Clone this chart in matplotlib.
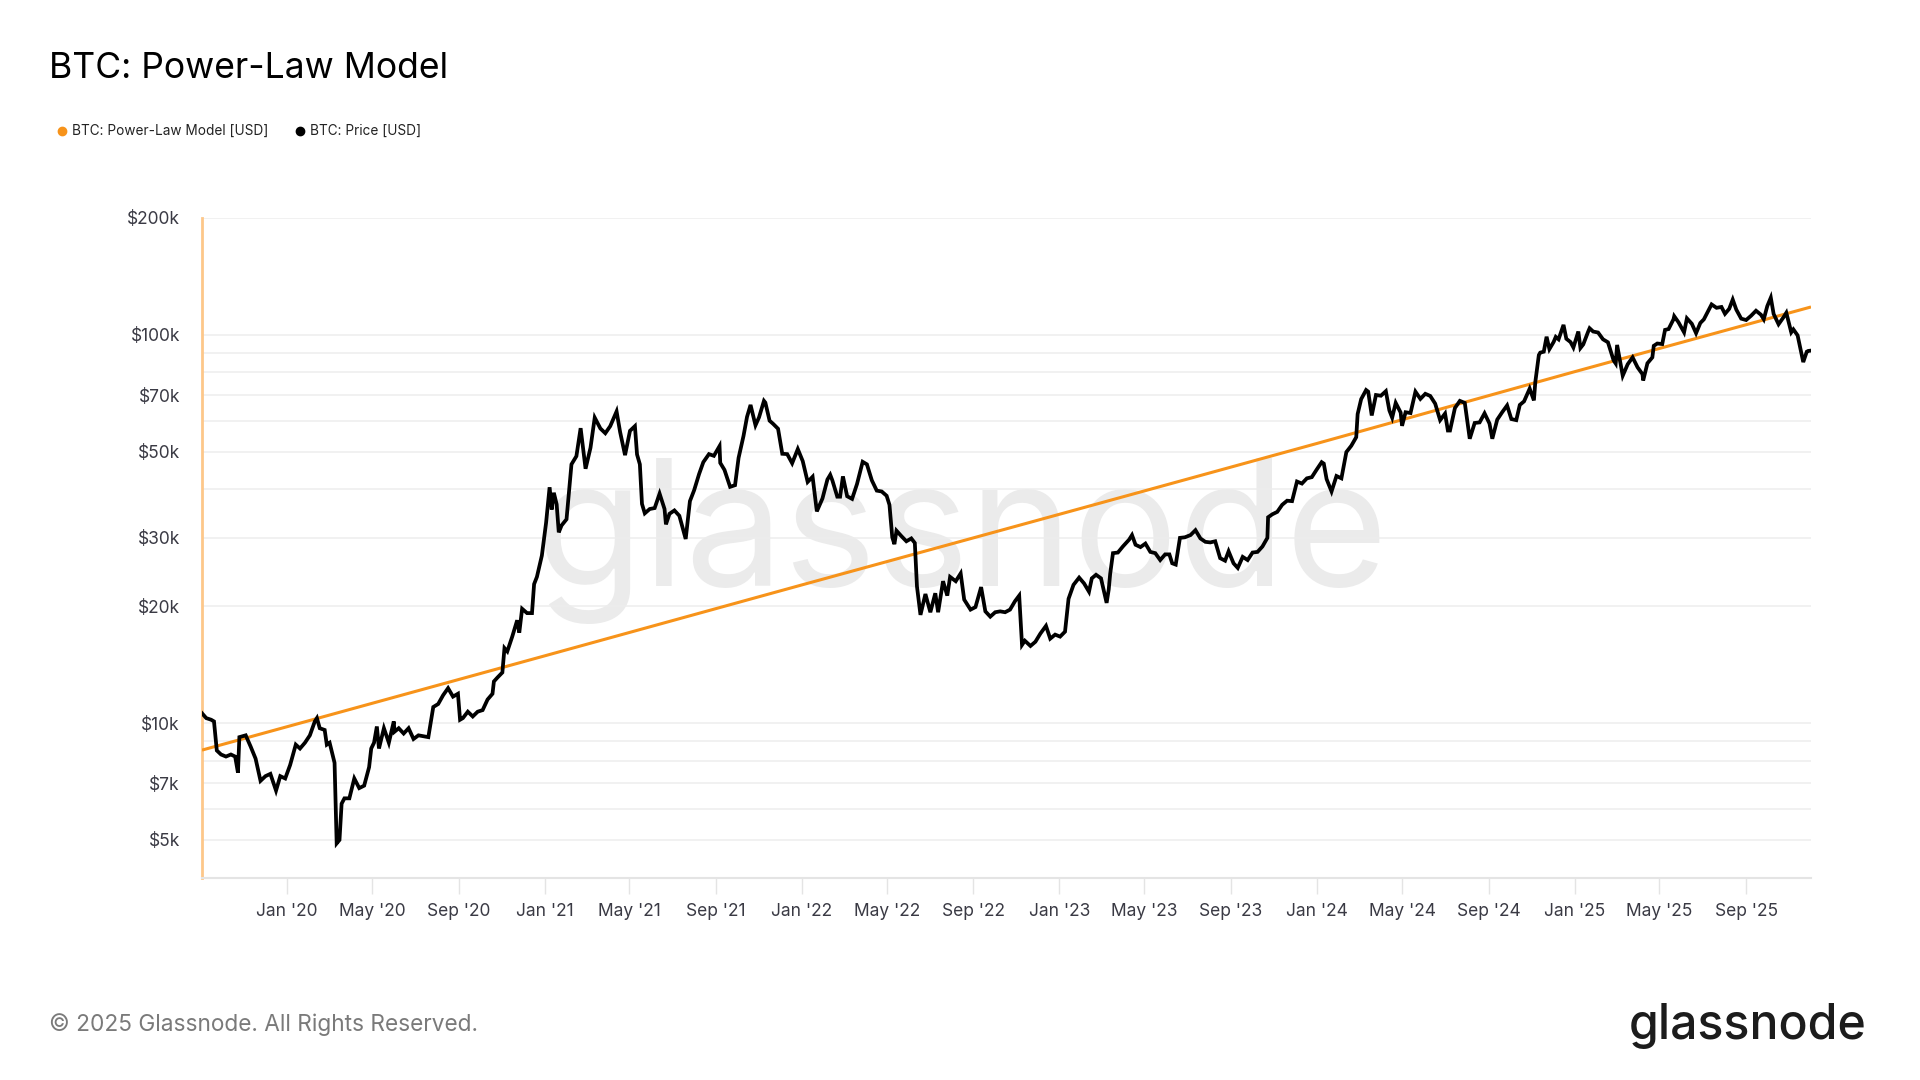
import matplotlib
matplotlib.use("Agg")
import matplotlib.pyplot as plt
from matplotlib.lines import Line2D
import pandas as pd

# ---------------------------------------------------------- #
#  Data                       #
# ---------------------------------------------------------- #
price_dates = [
    "2019-09-03", "2019-09-09", "2019-09-16", "2019-09-20", "2019-09-24", "2019-09-30",
    "2019-10-07", "2019-10-14", "2019-10-20", "2019-10-24", "2019-10-26", "2019-11-04",
    "2019-11-11", "2019-11-18", "2019-11-25", "2019-12-02", "2019-12-09", "2019-12-17",
    "2019-12-23", "2019-12-30",
    "2020-01-06", "2020-01-14", "2020-01-20", "2020-01-27", "2020-02-03", "2020-02-10",
    "2020-02-13", "2020-02-17", "2020-02-24", "2020-02-27", "2020-03-02", "2020-03-09",
    "2020-03-12", "2020-03-16", "2020-03-19", "2020-03-23", "2020-03-30", "2020-04-06",
    "2020-04-13", "2020-04-20", "2020-04-27", "2020-04-30", "2020-05-04", "2020-05-08",
    "2020-05-11", "2020-05-18", "2020-05-25", "2020-06-01", "2020-06-02", "2020-06-08",
    "2020-06-15", "2020-06-22", "2020-06-29", "2020-07-06", "2020-07-13", "2020-07-20",
    "2020-07-27", "2020-08-03", "2020-08-10", "2020-08-17", "2020-08-24", "2020-08-31",
    "2020-09-03", "2020-09-07", "2020-09-14", "2020-09-21", "2020-09-28", "2020-10-05",
    "2020-10-12", "2020-10-19", "2020-10-21", "2020-10-26", "2020-11-02", "2020-11-05",
    "2020-11-09", "2020-11-16", "2020-11-23", "2020-11-26", "2020-11-30", "2020-12-07",
    "2020-12-14", "2020-12-17", "2020-12-21", "2020-12-28",
    "2021-01-03", "2021-01-08", "2021-01-11", "2021-01-14", "2021-01-18", "2021-01-21",
    "2021-01-25", "2021-02-01", "2021-02-08", "2021-02-15", "2021-02-21", "2021-02-28",
    "2021-03-07", "2021-03-13", "2021-03-21", "2021-03-28", "2021-04-04", "2021-04-13",
    "2021-04-18", "2021-04-25", "2021-05-02", "2021-05-09", "2021-05-12", "2021-05-16",
    "2021-05-19", "2021-05-23", "2021-05-30", "2021-06-06", "2021-06-13", "2021-06-20",
    "2021-06-22", "2021-06-27", "2021-07-04", "2021-07-11", "2021-07-20", "2021-07-26",
    "2021-08-01", "2021-08-08", "2021-08-14", "2021-08-22", "2021-08-29", "2021-09-06",
    "2021-09-07", "2021-09-13", "2021-09-21", "2021-09-28", "2021-10-03", "2021-10-10",
    "2021-10-15", "2021-10-20", "2021-10-27", "2021-11-01", "2021-11-08", "2021-11-10",
    "2021-11-16", "2021-11-21", "2021-11-28", "2021-12-04", "2021-12-11", "2021-12-18",
    "2021-12-26",
    "2022-01-02", "2022-01-09", "2022-01-16", "2022-01-22", "2022-01-30", "2022-02-06",
    "2022-02-10", "2022-02-13", "2022-02-20", "2022-02-24", "2022-02-28", "2022-03-06",
    "2022-03-13", "2022-03-20", "2022-03-28", "2022-04-03", "2022-04-10", "2022-04-17",
    "2022-04-24", "2022-05-01", "2022-05-05", "2022-05-09", "2022-05-12", "2022-05-15",
    "2022-05-22", "2022-05-29", "2022-06-05", "2022-06-10", "2022-06-13", "2022-06-18",
    "2022-06-25", "2022-07-02", "2022-07-09", "2022-07-13", "2022-07-20", "2022-07-26",
    "2022-07-30", "2022-08-07", "2022-08-14", "2022-08-19", "2022-08-28", "2022-09-04",
    "2022-09-12", "2022-09-18", "2022-09-25", "2022-10-02", "2022-10-09", "2022-10-16",
    "2022-10-23", "2022-10-30", "2022-11-05", "2022-11-09", "2022-11-13", "2022-11-21",
    "2022-11-28", "2022-12-05", "2022-12-13", "2022-12-19", "2022-12-26",
    "2023-01-02", "2023-01-09", "2023-01-14", "2023-01-21", "2023-01-29", "2023-02-05",
    "2023-02-12", "2023-02-16", "2023-02-22", "2023-03-01", "2023-03-09", "2023-03-12",
    "2023-03-14", "2023-03-18", "2023-03-25", "2023-04-01", "2023-04-10", "2023-04-14",
    "2023-04-19", "2023-04-26", "2023-05-03", "2023-05-10", "2023-05-17", "2023-05-24",
    "2023-05-31", "2023-06-06", "2023-06-10", "2023-06-15", "2023-06-21", "2023-06-28",
    "2023-07-06", "2023-07-13", "2023-07-20", "2023-07-27", "2023-08-03", "2023-08-10",
    "2023-08-17", "2023-08-24", "2023-08-29", "2023-09-05", "2023-09-11", "2023-09-18",
    "2023-09-25", "2023-10-02", "2023-10-09", "2023-10-16", "2023-10-23", "2023-10-24",
    "2023-10-30", "2023-11-06", "2023-11-13", "2023-11-20", "2023-11-27", "2023-12-04",
    "2023-12-11", "2023-12-18", "2023-12-25",
    "2024-01-01", "2024-01-08", "2024-01-11", "2024-01-15", "2024-01-22", "2024-01-29",
    "2024-02-05", "2024-02-12", "2024-02-19", "2024-02-26", "2024-02-28", "2024-03-04",
    "2024-03-11", "2024-03-14", "2024-03-19", "2024-03-25", "2024-04-01", "2024-04-08",
    "2024-04-13", "2024-04-17", "2024-04-22", "2024-04-29", "2024-05-01", "2024-05-06",
    "2024-05-13", "2024-05-20", "2024-05-27", "2024-06-03", "2024-06-10", "2024-06-17",
    "2024-06-24", "2024-07-01", "2024-07-05", "2024-07-08", "2024-07-15", "2024-07-22",
    "2024-07-29", "2024-08-05", "2024-08-12", "2024-08-19", "2024-08-26", "2024-09-02",
    "2024-09-06", "2024-09-13", "2024-09-20", "2024-09-27", "2024-10-03", "2024-10-10",
    "2024-10-15", "2024-10-21", "2024-10-29", "2024-11-04", "2024-11-06", "2024-11-11",
    "2024-11-13", "2024-11-18", "2024-11-22", "2024-11-26", "2024-12-02", "2024-12-05",
    "2024-12-09", "2024-12-16", "2024-12-20", "2024-12-26", "2024-12-30",
    "2025-01-06", "2025-01-09", "2025-01-13", "2025-01-20", "2025-01-22", "2025-01-27",
    "2025-02-03", "2025-02-10", "2025-02-17", "2025-02-25", "2025-02-28", "2025-03-02",
    "2025-03-10", "2025-03-17", "2025-03-24", "2025-03-31", "2025-04-07", "2025-04-08",
    "2025-04-14", "2025-04-21", "2025-04-23", "2025-04-28", "2025-05-05", "2025-05-09",
    "2025-05-14", "2025-05-21", "2025-05-22", "2025-05-28", "2025-06-05", "2025-06-09",
    "2025-06-16", "2025-06-22", "2025-06-28", "2025-07-03", "2025-07-10", "2025-07-14",
    "2025-07-21", "2025-07-28", "2025-08-02", "2025-08-08", "2025-08-13", "2025-08-18",
    "2025-08-25", "2025-09-01", "2025-09-08", "2025-09-15", "2025-09-22", "2025-09-26",
    "2025-10-01", "2025-10-06", "2025-10-10", "2025-10-17", "2025-10-24", "2025-10-28",
    "2025-11-04", "2025-11-07", "2025-11-13", "2025-11-17", "2025-11-21", "2025-11-24",
    "2025-11-26", "2025-11-28", "2025-11-30",
]
price_usd = [
    10600, 10300, 10200, 10100, 8500, 8300,
    8200, 8300, 8200, 7450, 9200, 9300,
    8700, 8100, 7100, 7300, 7400, 6700,
    7300, 7200,
    7800, 8800, 8600, 8900, 9300, 10100,
    10300, 9700, 9600, 8800, 8900, 7900,
    4900, 5000, 6200, 6400, 6400, 7200,
    6800, 6900, 7700, 8600, 8900, 9800,
    8600, 9700, 8900, 10100, 9500, 9700,
    9400, 9700, 9100, 9300, 9250, 9200,
    11000, 11200, 11800, 12300, 11700, 11900,
    10200, 10300, 10700, 10400, 10700, 10800,
    11500, 11900, 12800, 13100, 13500, 15600,
    15300, 16700, 18400, 17100, 19700, 19200,
    19200, 22800, 23800, 27000,
    32800, 40500, 35500, 39200, 36600, 31000,
    32300, 33500, 46400, 48700, 57500, 45200,
    51200, 61200, 57400, 55800, 58200, 63500,
    56200, 49000, 56600, 58200, 49200, 46400,
    36700, 34700, 35600, 35800, 39000, 35600,
    32500, 34600, 35300, 34200, 29800, 37300,
    39800, 43800, 47000, 49300, 48800, 51700,
    46800, 44900, 40600, 41000, 48200, 54900,
    61500, 66000, 58500, 61300, 67600, 66900,
    60100, 59000, 57300, 49400, 49300, 46700,
    50800,
    47300, 41800, 43100, 35100, 37900, 42400,
    43600, 42200, 38300, 38300, 43200, 38400,
    37800, 41300, 47100, 46400, 42200, 39700,
    39500, 38500, 36500, 30100, 28900, 31300,
    30300, 29400, 29900, 29100, 22500, 19000,
    21500, 19300, 21600, 19300, 23200, 21300,
    23800, 23200, 24300, 20800, 19600, 19900,
    22400, 19400, 18800, 19300, 19400, 19300,
    19600, 20600, 21300, 15900, 16300, 15800,
    16200, 17000, 17800, 16500, 16900,
    16700, 17200, 20900, 22700, 23700, 22900,
    21800, 23600, 24100, 23600, 20400, 22100,
    24200, 27400, 27500, 28500, 29700, 30500,
    28800, 28400, 29000, 27600, 27400, 26300,
    27200, 27200, 25800, 25600, 30000, 30100,
    30500, 31400, 29900, 29300, 29200, 29400,
    26600, 26200, 27700, 25800, 25100, 26800,
    26300, 27500, 27600, 28500, 30000, 33900,
    34500, 35000, 36500, 37400, 37300, 41900,
    41400, 42700, 43000,
    45000, 47000, 46600, 42500, 39500, 43300,
    42700, 49900, 51800, 54500, 62500, 68300,
    72100, 71400, 62000, 70000, 69700, 71600,
    63900, 61200, 66800, 63100, 58300, 63200,
    62900, 71400, 68400, 70500, 69600, 66500,
    60300, 62700, 56700, 56700, 64800, 67600,
    66800, 54000, 59300, 59500, 62800, 59100,
    54000, 60500, 63200, 65800, 60700, 60300,
    66000, 67400, 72700, 67800, 75600, 88700,
    90000, 90500, 98900, 91900, 95900, 98800,
    97400, 106100, 97700, 95800, 92800,
    102000, 92500, 94500, 102000, 104000, 102000,
    101400, 97400, 95700, 86000, 84400, 94200,
    78500, 84000, 87500, 82500, 79200, 76300,
    84500, 87500, 93700, 95000, 94700, 103000,
    103500, 109700, 111700, 107800, 101500, 110300,
    106800, 101000, 107300, 109600, 116000, 119800,
    117400, 118000, 113300, 116700, 123300, 116200,
    110100, 109200, 112000, 115400, 112700, 109700,
    118600, 124700, 113200, 106500, 111000, 114000,
    101500, 103300, 99700, 92200, 85100, 88300,
    90500, 90900, 91000,
]

model_dates = ["2019-09-03", "2020-01-01", "2021-01-01", "2022-01-01",
               "2023-01-01", "2024-01-01", "2025-01-01", "2025-12-02"]
model_usd = [8520, 9780, 14900, 22700, 34500, 52500, 80400, 118000]

y_label_ticks = [5000, 7000, 10000, 20000, 30000, 50000, 70000, 100000, 200000]
y_label_text = ["$5k", "$7k", "$10k", "$20k", "$30k", "$50k", "$70k", "$100k", "$200k"]
y_grid_minor = [6000, 8000, 9000, 40000, 60000, 80000, 90000]

x_start = "2019-09-03"
x_end = "2025-12-02"

# ---------------------------------------------------------- #
#  Styling                                                   #
# ---------------------------------------------------------- #
ORANGE = "#f7931a"
TEXT = "#3a3a44"
GRID = "#ededed"

plt.rcParams['font.family'] = ['Inter', 'DejaVu Sans']

W, H = 1920, 1080
fig = plt.figure(figsize=(W / 100, H / 100), dpi=100)
fig.patch.set_facecolor("white")

left, right, top, bottom = 202, 1811, 218, 878
ax = fig.add_axes([left / W, 1 - bottom / H, (right - left) / W, (bottom - top) / H])

pdates = pd.to_datetime(price_dates)
mdates_ = pd.to_datetime(model_dates)

ax.plot(mdates_, model_usd, color=ORANGE, lw=2.2, zorder=3, solid_capstyle="butt")
ax.plot(pdates, price_usd, color="black", lw=2.7, zorder=4, solid_joinstyle="miter")

ax.set_yscale("log")
ax.set_ylim(3990, 200000)
ax.set_xlim(pd.Timestamp(x_start), pd.Timestamp(x_end))

# y axis: labelled ticks + extra grid lines
ax.yaxis.set_major_locator(matplotlib.ticker.FixedLocator(y_label_ticks))
ax.yaxis.set_major_formatter(matplotlib.ticker.FixedFormatter(y_label_text))
ax.yaxis.set_minor_locator(matplotlib.ticker.FixedLocator(y_grid_minor))
ax.yaxis.set_minor_formatter(matplotlib.ticker.NullFormatter())
ax.yaxis.grid(True, which="both", color=GRID, lw=1.1, zorder=0)
ax.tick_params(axis="y", which="both", length=0, pad=15.8, labelsize=12.5, labelcolor=TEXT)

# x axis: Jan / May / Sep ticks
xticks = pd.date_range("2020-01-01", "2025-09-01", freq="4MS")
ax.set_xticks(xticks)
ax.set_xticklabels([d.strftime("%b '%y") for d in xticks])
ax.tick_params(axis="x", length=11.3, width=1.0, color="#e4e4e4", pad=6.7,
               labelsize=12.5, labelcolor=TEXT)

for side in ("top", "right"):
    ax.spines[side].set_visible(False)
ax.spines["left"].set_color("#fdc78a")
ax.spines["left"].set_linewidth(2.0)
ax.spines["bottom"].set_color("#e4e4e4")
ax.spines["bottom"].set_linewidth(1.5)

# watermark
ax.text(0.472, 0.51, "glassnode", transform=ax.transAxes, ha="center", va="center",
        fontsize=126.5, color="#ebebeb", zorder=1)

# title, legend, footer
fig.text(49 / W, 1 - 68 / H, "BTC: Power-Law Model", fontsize=25.6, color="black",
         va="center", ha="left")

leg_y = 1 - 130.5 / H
fig.add_artist(Line2D([62 / W], [leg_y], marker="o", markersize=6, color=ORANGE,
                      transform=fig.transFigure, lw=0))
fig.text(72 / W, leg_y, "BTC: Power-Law Model [USD]", fontsize=9.8, color="#222222",
         va="center", ha="left")
fig.add_artist(Line2D([300 / W], [leg_y], marker="o", markersize=6, color="black",
                      transform=fig.transFigure, lw=0))
fig.text(310 / W, leg_y, "BTC: Price [USD]", fontsize=9.8, color="#222222",
         va="center", ha="left")

fig.text(49 / W, 1 - 1025 / H, "\u00a9 2025 Glassnode. All Rights Reserved.",
         fontsize=16.3, color="#7a7a7a", va="center", ha="left")
fig.text(1867 / W, 1 - 1026 / H, "glassnode", fontsize=34.7, color="#1c1c1c",
         fontweight="medium", va="center", ha="right")

fig.savefig("out.png", dpi=100, facecolor="white")
